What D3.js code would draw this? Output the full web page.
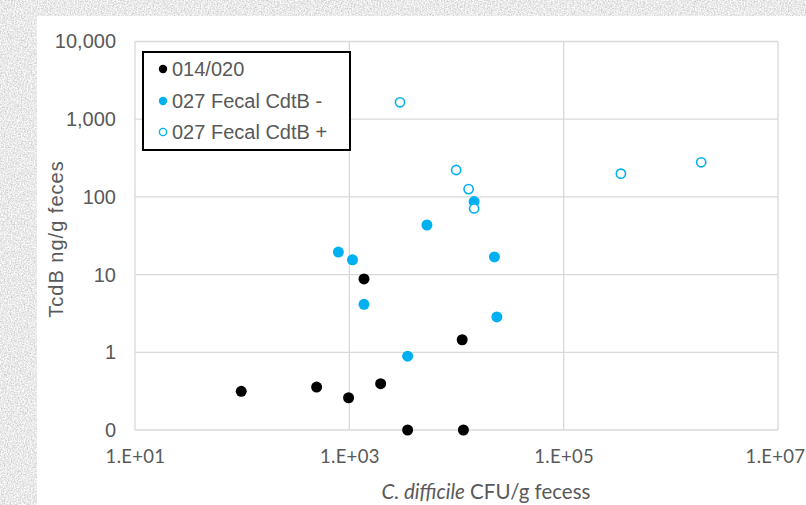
<!DOCTYPE html>
<html>
<head>
<meta charset="utf-8">
<script src="https://cdn.jsdelivr.net/npm/d3@7"></script>
<style>
  body { margin: 0; }
  svg { display: block; }
</style>
</head>
<body>
<svg id="chart" width="806" height="505"></svg>
<script>
// series: [CFU/g, TcdB ng/g]
const strain014 = [[98, 0.315], [495, 0.357], [984, 0.26], [1960, 0.394], [1370, 8.8],
  [3500, 0.1], [11300, 1.45], [11600, 0.1]];
const fecalCdtBNeg = [[790, 19.5], [1070, 15.5], [1370, 4.15], [3500, 0.89], [5300, 43.5],
  [14600, 87], [22600, 16.9], [23800, 2.85]];
const fecalCdtBPos = [[2970, 1650], [9930, 222], [12970, 126], [14600, 71], [342000, 199],
  [1920000, 279]];

const seriesNames = ["014/020", "027 Fecal CdtB -", "027 Fecal CdtB +"];
const xTicks = [1e1, 1e3, 1e5, 1e7];
const xTickLabels = ["1.E+01", "1.E+03", "1.E+05", "1.E+07"];
const yTicks = [0.1, 1, 10, 100, 1000, 10000];
const yTickLabels = ["0", "1", "10", "100", "1,000", "10,000"];

const svg = d3.select("#chart");
const W = 806, H = 505;
const plot = { left: 135, right: 778, top: 41.5, bottom: 430 };
const blue = "#00B0F0";
const textGray = "#595959";
const gridGray = "#d9d9d9";

// textured backdrop
const defs = svg.append("defs");
const f = defs.append("filter").attr("id", "stone").attr("x", 0).attr("y", 0)
  .attr("width", "100%").attr("height", "100%");
f.append("feTurbulence").attr("type", "fractalNoise").attr("baseFrequency", 0.7)
  .attr("numOctaves", 3).attr("seed", 4).attr("result", "noise");
f.append("feColorMatrix").attr("type", "matrix")
  .attr("values", "0 0 0 0.7 0.47  0 0 0 0.7 0.47  0 0 0 0.7 0.47  0 0 0 0 1");
svg.append("rect").attr("width", W).attr("height", H).attr("fill", "#dcdcdc");
svg.append("rect").attr("width", W).attr("height", H).attr("filter", "url(#stone)");

svg.append("rect").attr("x", 37).attr("y", 16).attr("width", W - 37).attr("height", H - 16)
  .attr("fill", "#fff");

const x = d3.scaleLog().domain([1e1, 1e7]).range([plot.left, plot.right]);
const y = d3.scaleLog().domain([0.1, 10000]).range([plot.bottom, plot.top]);

// gridlines
const grid = svg.append("g").attr("stroke", gridGray).attr("stroke-width", 1.3);
grid.selectAll(".gy").data(yTicks).join("line")
  .attr("x1", plot.left).attr("x2", plot.right)
  .attr("y1", d => y(d)).attr("y2", d => y(d));
grid.selectAll(".gx").data(xTicks).join("line")
  .attr("y1", plot.top).attr("y2", plot.bottom)
  .attr("x1", d => x(d)).attr("x2", d => x(d));

// axes, drawn via d3 axes with styling stripped back
const yAxis = d3.axisLeft(y).tickValues(yTicks).tickFormat((d, i) => yTickLabels[i])
  .tickSize(0).tickPadding(19);
svg.append("g").attr("transform", `translate(${plot.left},0)`).call(yAxis)
  .call(g => g.select(".domain").remove())
  .call(g => g.selectAll("text").attr("fill", textGray)
    .style("font-family", "Liberation Sans, Arial, sans-serif").style("font-size", "20px"));

const xAxis = d3.axisBottom(x).tickValues(xTicks).tickFormat((d, i) => xTickLabels[i])
  .tickSize(0).tickPadding(20);
svg.append("g").attr("transform", `translate(0,${plot.bottom})`).call(xAxis)
  .call(g => g.select(".domain").remove())
  .call(g => g.selectAll("text").attr("fill", textGray)
    .style("font-family", "Lato, sans-serif").style("font-size", "18.5px")
    .style("letter-spacing", "0.3px"))
  // the last label sits right against the window edge
  .call(g => g.selectAll("text").filter((d, i) => i === xTicks.length - 1).attr("dx", -3));

// axis titles
svg.append("text")
  .attr("transform", `translate(63,239) rotate(-90)`)
  .attr("text-anchor", "middle").attr("fill", textGray)
  .style("font-family", "Liberation Sans, Arial, sans-serif").style("font-size", "20px")
  .style("letter-spacing", "1px")
  .text("TcdB ng/g feces");

const xt = svg.append("text").attr("x", 486).attr("y", 499)
  .attr("text-anchor", "middle").attr("fill", textGray)
  .style("font-family", "Lato, sans-serif").style("font-size", "20.5px");
xt.append("tspan").style("font-style", "italic").text("C. difficile");
xt.append("tspan").text(" CFU/g fecess");

// points
const marks = svg.append("g");
marks.selectAll(".s1").data(strain014).join("circle")
  .attr("cx", d => x(d[0])).attr("cy", d => y(d[1])).attr("r", 5.5).attr("fill", "#000");
marks.selectAll(".s2").data(fecalCdtBNeg).join("circle")
  .attr("cx", d => x(d[0])).attr("cy", d => y(d[1])).attr("r", 5.5).attr("fill", blue);
marks.selectAll(".s3").data(fecalCdtBPos).join("circle")
  .attr("cx", d => x(d[0])).attr("cy", d => y(d[1])).attr("r", 4.6)
  .attr("fill", "#fff").attr("stroke", blue).attr("stroke-width", 1.6);

// legend
const legend = svg.append("g");
legend.append("rect").attr("x", 143).attr("y", 52).attr("width", 207).attr("height", 98)
  .attr("fill", "#fff").attr("stroke", "#000").attr("stroke-width", 2);
const rowY = [69, 101, 132];
seriesNames.forEach((name, i) => {
  const c = legend.append("circle").attr("cx", 163).attr("cy", rowY[i]).attr("r", i === 2 ? 3.6 : 4.2);
  if (i === 0) c.attr("fill", "#000");
  else if (i === 1) c.attr("fill", blue);
  else c.attr("fill", "#fff").attr("stroke", blue).attr("stroke-width", 1.4);
  legend.append("text").attr("x", 172).attr("y", rowY[i] + 7).attr("fill", textGray)
    .style("font-family", "Liberation Sans, Arial, sans-serif").style("font-size", "20px")
    .text(name);
});
</script>
</body>
</html>
